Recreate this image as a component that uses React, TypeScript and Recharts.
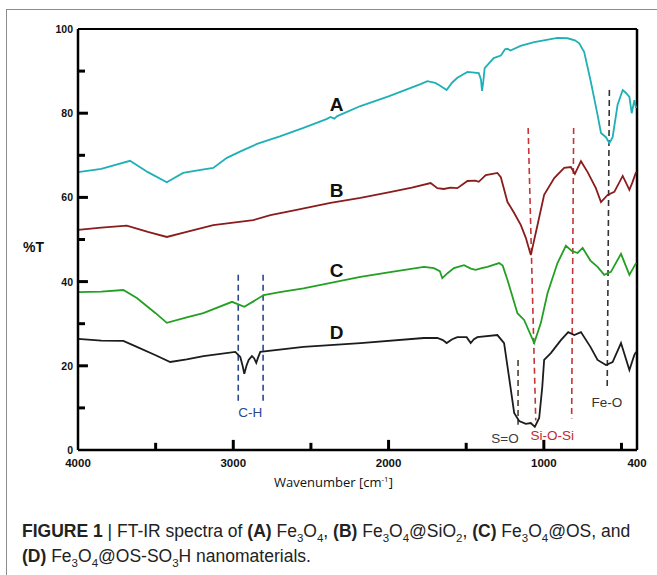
import React from 'react';
import { LineChart, Line, XAxis, YAxis, ReferenceLine, ReferenceDot } from 'recharts';

// Wavenumber (cm-1) / %T pairs
const seriesA = [
  [4000, 66.0], [3850, 66.8], [3665, 68.7], [3550, 66.0], [3428, 63.6], [3323, 65.8], [3200, 66.6], [3129, 67.0],
  [3041, 69.4], [2950, 71.0], [2847, 72.7], [2700, 74.5], [2548, 76.5], [2400, 78.6], [2374, 79.1], [2350, 78.7],
  [2330, 79.3], [2181, 81.7], [2000, 84.0], [1794, 86.9], [1750, 87.6], [1700, 87.2], [1675, 86.7], [1626, 85.5],
  [1590, 87.3], [1557, 88.4], [1492, 89.8], [1419, 89.5], [1405, 88.0], [1398, 85.3], [1390, 87.5], [1381, 90.7],
  [1323, 93.1], [1277, 93.7], [1250, 95.2], [1234, 95.3], [1215, 94.9], [1150, 96.0], [1062, 96.9], [912, 97.9],
  [847, 97.8], [800, 97.3], [772, 96.6], [740, 94.5], [697, 87.4], [654, 79.6], [632, 75.3], [600, 74.3],
  [578, 72.9], [557, 74.3], [525, 82.0], [492, 85.5], [471, 84.8], [449, 83.9], [434, 80.0], [417, 83.1], [406, 81.2],
];
const seriesB = [
  [4000, 52.3], [3850, 52.8], [3686, 53.3], [3550, 51.8], [3428, 50.6], [3300, 51.8], [3129, 53.4], [2871, 54.6],
  [2761, 55.8], [2600, 57.0], [2374, 58.7], [2181, 59.9], [2000, 61.2], [1850, 62.3], [1729, 63.4], [1686, 62.2],
  [1645, 62.0], [1600, 62.3], [1557, 62.2], [1492, 63.9], [1440, 64.0], [1419, 63.7], [1374, 65.3], [1330, 65.6],
  [1299, 65.8], [1277, 64.8], [1234, 58.9], [1191, 56.3], [1148, 53.4], [1116, 50.4], [1084, 46.3], [1041, 53.4],
  [998, 60.6], [933, 64.6], [869, 67.0], [826, 67.2], [800, 65.6], [761, 68.6], [718, 66.0], [665, 62.2],
  [632, 58.9], [589, 60.6], [546, 61.3], [492, 65.1], [449, 61.8], [430, 63.5], [406, 66.0],
];
const seriesC = [
  [4000, 37.5], [3850, 37.6], [3708, 38.0], [3621, 36.1], [3500, 32.5], [3428, 30.2], [3300, 31.5], [3193, 32.5],
  [3008, 35.2], [2929, 34.0], [2870, 35.3], [2804, 36.8], [2700, 37.5], [2548, 38.4], [2181, 41.1], [2000, 42.2],
  [1772, 43.5], [1708, 43.2], [1670, 42.5], [1654, 40.8], [1620, 42.0], [1579, 43.2], [1514, 43.9], [1470, 43.1],
  [1439, 42.8], [1400, 43.2], [1363, 43.5], [1288, 44.4], [1265, 43.8], [1234, 40.4], [1170, 32.5], [1127, 30.9],
  [1062, 25.4], [1019, 30.2], [976, 37.3], [912, 44.4], [858, 48.5], [820, 47.3], [783, 46.8], [750, 48.0],
  [700, 45.0], [654, 43.5], [611, 41.6], [568, 42.3], [503, 46.6], [449, 41.6], [420, 43.5], [406, 44.4],
];
const seriesD = [
  [4000, 26.4], [3850, 26.0], [3708, 25.9], [3621, 24.5], [3500, 22.5], [3406, 20.9], [3300, 21.5], [3192, 22.3],
  [2987, 23.3], [2955, 22.1], [2940, 20.0], [2929, 18.1], [2915, 20.0], [2901, 21.4], [2880, 22.3], [2866, 21.8],
  [2852, 20.7], [2840, 22.0], [2826, 23.3], [2548, 24.5], [2181, 25.4], [1772, 26.6], [1686, 26.6], [1650, 26.1],
  [1626, 25.4], [1590, 26.3], [1557, 26.8], [1497, 26.8], [1471, 25.4], [1450, 26.3], [1428, 26.8], [1299, 27.3],
  [1256, 25.4], [1224, 17.3], [1191, 8.8], [1159, 6.9], [1116, 6.2], [1084, 6.4], [1058, 5.5], [1030, 7.6],
  [1010, 15.0], [998, 21.4], [955, 23.0], [890, 26.1], [843, 28.0], [804, 27.3], [761, 28.0], [700, 24.5],
  [654, 21.4], [600, 20.2], [557, 20.9], [503, 25.4], [449, 19.0], [417, 22.6], [406, 23.3],
];

const xTicks = [4000, 3000, 2000, 1000, 400];
const xMajorMarks = [3000, 2000, 1000];
const xMinorMarks = [3500, 2500, 1500, 500];
const yTicks = [0, 20, 40, 60, 80, 100];
const yMajorMarks = [20, 40, 60, 80];
const yMinorMarks = [10, 30, 50, 70, 90];

const seriesLabels = [
  { text: 'A', w: 2335, v: 82.2 },
  { text: 'B', w: 2335, v: 61.8 },
  { text: 'C', w: 2335, v: 42.8 },
  { text: 'D', w: 2335, v: 28.0 },
];
const bandLabels = [
  { text: 'C-H', w: 2890, v: 9.0, color: '#2b4791' },
  { text: 'Fe-O', w: 594, v: 11.4, color: '#333333' },
  { text: 'S=O', w: 1250, v: 2.9, color: '#3a3a3a' },
  { text: 'Si-O-Si', w: 945, v: 3.6, color: '#c22a2e' },
];
const bandLines = [
  { from: [2968, 41.6], to: [2968, 11.4], color: '#2b4791' },
  { from: [2808, 41.6], to: [2808, 11.4], color: '#2b4791' },
  { from: [1101, 76.5], to: [1052, 7.0], color: '#c43535' },
  { from: [808, 76.5], to: [821, 7.5], color: '#c43535' },
  { from: [578, 85.5], to: [592, 14.5], color: '#333333' },
  { from: [1166, 21.4], to: [1166, 6.0], color: '#4a4030' },
];

// tick-mark lengths, in axis units (~10px and ~7px)
const Y_MARK_MAJOR = 64;
const Y_MARK_MINOR = 45;
const X_MARK_MAJOR = 2.4;
const X_MARK_MINOR = 1.7;

const toRows = (arr: number[][]) => arr.map(([w, v]) => ({ w, v }));

const YTick = (props: any) => {
  const { x, y, payload } = props;
  return (
    <text x={x - 5} y={y + 4} textAnchor="end" fontSize={10.5} fontWeight="bold" fontFamily="Arial, Liberation Sans" fill="#111">
      {payload.value}
    </text>
  );
};

const XTick = (props: any) => {
  const { x, y, payload } = props;
  return (
    <text x={x} y={y + 17} textAnchor="middle" fontSize={11.5} fontWeight="bold" fontFamily="Arial, Liberation Sans" fill="#111">
      {payload.value}
    </text>
  );
};

const subStyle: React.CSSProperties = { fontSize: 11.5, lineHeight: 0 };

export default function App() {
  return (
    <div style={{ position: 'absolute', left: 0, top: 0, width: 657, height: 575, overflow: 'hidden', background: '#fff' }}>
      <div style={{ position: 'absolute', left: 0, top: 0 }}>
        <LineChart width={657} height={575} margin={{ top: 29, right: 20, bottom: 95, left: 48 }}>
          <XAxis
            type="number"
            dataKey="w"
            domain={[400, 4000]}
            reversed
            ticks={xTicks}
            interval={0}
            height={30}
            tickSize={0}
            tickMargin={0}
            tick={<XTick />}
            axisLine={{ stroke: '#000', strokeWidth: 2.5 }}
            tickLine={false}
            allowDataOverflow
          />
          <YAxis
            type="number"
            domain={[0, 100]}
            ticks={yTicks}
            interval={0}
            width={30}
            tickSize={0}
            tickMargin={0}
            tick={<YTick />}
            axisLine={{ stroke: '#000', strokeWidth: 2.5 }}
            tickLine={false}
            allowDataOverflow
          />
          <ReferenceLine y={100} stroke="#000" strokeWidth={2} />
          <ReferenceLine x={400} stroke="#000" strokeWidth={2.5} />
          {yMajorMarks.map((v) => (
            <ReferenceLine key={'ym' + v} segment={[{ x: 4000, y: v }, { x: 4000 - Y_MARK_MAJOR, y: v }]} stroke="#000" strokeWidth={3} />
          ))}
          {yMinorMarks.map((v) => (
            <ReferenceLine key={'yn' + v} segment={[{ x: 4000, y: v }, { x: 4000 - Y_MARK_MINOR, y: v }]} stroke="#000" strokeWidth={3} />
          ))}
          {xMajorMarks.map((w) => (
            <ReferenceLine key={'xm' + w} segment={[{ x: w, y: 0 }, { x: w, y: X_MARK_MAJOR }]} stroke="#000" strokeWidth={3} />
          ))}
          {xMinorMarks.map((w) => (
            <ReferenceLine key={'xn' + w} segment={[{ x: w, y: 0 }, { x: w, y: X_MARK_MINOR }]} stroke="#000" strokeWidth={3} />
          ))}
          {bandLines.map((b, i) => (
            <ReferenceLine
              key={'bl' + i}
              segment={[{ x: b.from[0], y: b.from[1] }, { x: b.to[0], y: b.to[1] }]}
              stroke={b.color}
              strokeWidth={1.6}
              strokeDasharray="6 4"
            />
          ))}
          <Line data={toRows(seriesA)} dataKey="v" stroke="#1fb0b6" strokeWidth={1.8} dot={false} isAnimationActive={false} type="linear" />
          <Line data={toRows(seriesB)} dataKey="v" stroke="#8a1c1c" strokeWidth={1.8} dot={false} isAnimationActive={false} type="linear" />
          <Line data={toRows(seriesC)} dataKey="v" stroke="#23a023" strokeWidth={1.8} dot={false} isAnimationActive={false} type="linear" />
          <Line data={toRows(seriesD)} dataKey="v" stroke="#1c1c1c" strokeWidth={1.8} dot={false} isAnimationActive={false} type="linear" />
          {seriesLabels.map((l) => (
            <ReferenceDot
              key={l.text}
              x={l.w}
              y={l.v}
              r={0}
              shape={(p: any) => (
                <text x={p.cx} y={p.cy + 7} textAnchor="middle" fontSize={19} fontWeight="bold" fontFamily="Arial, Liberation Sans" fill="#111">
                  {l.text}
                </text>
              )}
            />
          ))}
          {bandLabels.map((l) => (
            <ReferenceDot
              key={l.text}
              x={l.w}
              y={l.v}
              r={0}
              shape={(p: any) => (
                <text x={p.cx} y={p.cy + 5} textAnchor="middle" fontSize={13.5} fontFamily="Arial, Liberation Sans" fill={l.color}>
                  {l.text}
                </text>
              )}
            />
          ))}
        </LineChart>
      </div>
      <div style={{ position: 'absolute', left: 6, top: 9, width: 720, height: 640, border: '1.5px solid #8c8c8c', pointerEvents: 'none' }} />
      <div style={{ position: 'absolute', left: 23, top: 239, fontFamily: 'Arial, Liberation Sans', fontWeight: 'bold', fontSize: 14, color: '#111' }}>%T</div>
      <div style={{ position: 'absolute', left: 274, top: 473, fontFamily: 'Open Sans, Arial', fontSize: 13, color: '#111', whiteSpace: 'nowrap' }}>
        Wavenumber [cm<sup style={{ fontSize: 8, lineHeight: 0 }}>-1</sup>]
      </div>
      <div style={{ position: 'absolute', left: 22, top: 519, width: 640, fontFamily: 'Arial, Liberation Sans', fontSize: 17.5, lineHeight: '25px', color: '#222', whiteSpace: 'nowrap' }}>
        <b>FIGURE 1</b> | FT-IR spectra of <b>(A)</b> Fe<sub style={subStyle}>3</sub>O<sub style={subStyle}>4</sub>, <b>(B)</b> Fe<sub style={subStyle}>3</sub>O<sub style={subStyle}>4</sub>@SiO<sub style={subStyle}>2</sub>, <b>(C)</b> Fe<sub style={subStyle}>3</sub>O<sub style={subStyle}>4</sub>@OS, and
        <br />
        <b>(D)</b> Fe<sub style={subStyle}>3</sub>O<sub style={subStyle}>4</sub>@OS-SO<sub style={subStyle}>3</sub>H nanomaterials.
      </div>
    </div>
  );
}
